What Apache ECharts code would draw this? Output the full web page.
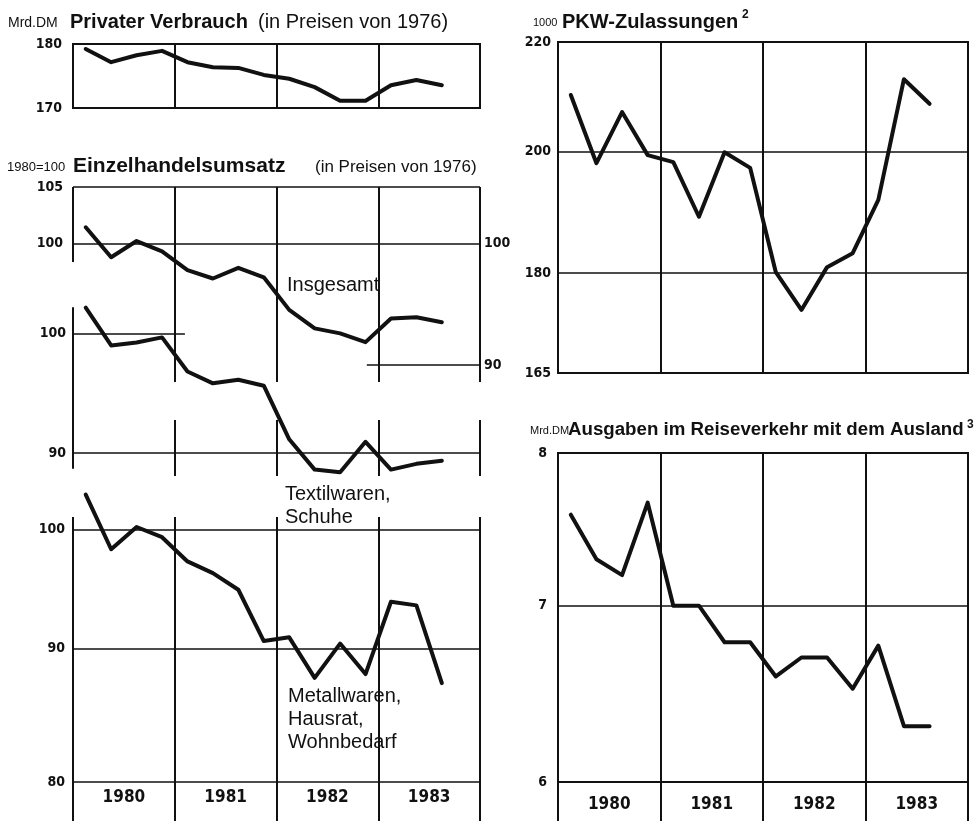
<!DOCTYPE html>
<html>
<head>
<meta charset="utf-8">
<script src="https://cdn.jsdelivr.net/npm/echarts@6/dist/echarts.min.js"></script>
<style>
  html, body { margin: 0; padding: 0; background: #fff; }
  #chart { width: 979px; height: 821px; }
</style>
</head>
<body>
<div id="chart"></div>
<script>
// quarterly values 1980 I .. 1983 III
const years = ['1980', '1981', '1982', '1983'];
const quarters = [
  '1980 I', '1980 II', '1980 III', '1980 IV',
  '1981 I', '1981 II', '1981 III', '1981 IV',
  '1982 I', '1982 II', '1982 III', '1982 IV',
  '1983 I', '1983 II', '1983 III'
];

const privaterVerbrauch = [179.2, 177.1, 178.2, 178.9, 177.1, 176.3, 176.2, 175.1, 174.5, 173.2, 171.1, 171.1, 173.5, 174.3, 173.5];
const insgesamt = [101.4, 98.8, 100.2, 99.3, 97.7, 97.0, 97.9, 97.1, 94.4, 92.9, 92.5, 91.8, 93.7, 93.8, 93.4];
const textilwaren = [102.3, 98.95, 99.2, 99.65, 96.7, 95.7, 96.0, 95.5, 91.1, 88.7, 88.5, 90.9, 88.7, 89.15, 89.4];
const metallwaren = [103.1, 98.25, 100.2, 99.3, 97.2, 96.2, 94.8, 90.6, 90.9, 87.7, 90.4, 88.0, 93.8, 93.5, 87.3];
const pkwZulassungen = [210.1, 198.0, 207.0, 199.4, 198.2, 189.0, 199.9, 197.2, 180.1, 174.3, 180.9, 183.1, 191.8, 213.0, 208.5];
const reiseverkehr = [7.58, 7.29, 7.19, 7.66, 7.00, 7.00, 6.78, 6.78, 6.58, 6.69, 6.69, 6.51, 6.76, 6.30, 6.30];

const pvTicks = [170, 180];
const insgLeftTicks = [100, 105];
const insgRightTicks = [90, 100];
const textilTicks = [90, 100];
const metallTicks = [80, 90, 100];
const pkwTicks = [165, 180, 200, 220];
const reiseTicks = [6, 7, 8];

const INK = '#111';
const numFont = '"DejaVu Sans Condensed", "DejaVu Sans", sans-serif';
const textFont = '"Liberation Sans", Arial, sans-serif';
const nQ = years.length * 4;

const chart = echarts.init(document.getElementById('chart'));

// quarter i is drawn in the middle of its slot on a 0..16 axis
const toPoints = (values) => values.map((v, i) => [i + 0.5, v]);

const box = { show: true, borderColor: INK, borderWidth: 2, backgroundColor: 'transparent' };

const grids = [
  Object.assign({ left: 73, top: 44, width: 407, height: 64 }, box),   // 0 privater verbrauch
  { left: 73, top: 187, width: 407, height: 178 },                     // 1 insgesamt
  { left: 73, top: 278, width: 407, height: 240 },                     // 2 textil
  { left: 73, top: 474, width: 407, height: 308 },                     // 3 metall
  Object.assign({ left: 558, top: 42, width: 410, height: 331 }, box), // 4 pkw
  Object.assign({ left: 558, top: 453, width: 410, height: 329 }, box),// 5 reise
  { left: 73, top: 187, width: 407, height: 75 },                      // 6 frame pieces
  { left: 73, top: 262, width: 407, height: 120 },                     // 7
  { left: 73, top: 420, width: 407, height: 56 },                      // 8
  { left: 73, top: 308, width: 407, height: 160 },                     // 9 left border piece
  { left: 73, top: 517, width: 407, height: 265 }                      // 10
];

const vLines = { show: true, lineStyle: { color: INK, width: 2 } };

function xAx(gridIndex, extra) {
  return Object.assign({
    type: 'value', gridIndex: gridIndex, min: 0, max: nQ, interval: 4,
    axisLine: { show: false }, axisTick: { show: false },
    axisLabel: { show: false }, splitLine: { show: false }
  }, extra || {});
}

function yearLabels(margin) {
  return {
    show: true, customValues: [2, 6, 10, 14],
    formatter: (v) => years[(v - 2) / 4],
    margin: margin, color: INK, fontFamily: numFont, fontWeight: 'bold', fontSize: 17
  };
}
const longTicks = { show: true, length: 39, lineStyle: { color: INK, width: 2 } };

const xAxes = [
  xAx(0, { splitLine: vLines }),
  xAx(1), xAx(2), xAx(3),
  xAx(4, { splitLine: vLines }),
  xAx(5, { splitLine: vLines, axisLabel: yearLabels(14), axisTick: longTicks }),
  xAx(6, { splitLine: vLines }),
  xAx(7, { splitLine: Object.assign({ showMinLine: false }, vLines) }),
  xAx(8, { splitLine: Object.assign({ showMinLine: false }, vLines) }),
  xAx(9),
  xAx(10, { splitLine: vLines, axisLabel: yearLabels(7), axisTick: longTicks })
];

function logY(gridIndex, min, max, ticks, margin, position) {
  return {
    type: 'log', logBase: 10, gridIndex: gridIndex, min: min, max: max,
    position: position || 'left',
    axisLine: { show: false }, axisTick: { show: false }, splitLine: { show: false },
    axisLabel: {
      show: true, customValues: ticks, formatter: (v) => String(Math.round(v)),
      margin: margin, color: INK, fontFamily: numFont, fontWeight: 'bold', fontSize: 14
    }
  };
}
function plainY(gridIndex, border) {
  return {
    type: 'value', gridIndex: gridIndex, min: 0, max: 1,
    axisLine: { show: !!border, lineStyle: { color: INK, width: 2 } },
    axisTick: { show: false }, axisLabel: { show: false }, splitLine: { show: false }
  };
}

const yAxes = [
  logY(0, 170, 180, pvTicks, 11),
  logY(1, 90, 105, insgLeftTicks, 10),
  logY(1, 90, 105, insgRightTicks, 4, 'right'),
  logY(2, 85, 105, textilTicks, 7),
  logY(3, 80, 105, metallTicks, 8),
  logY(4, 165, 220, pkwTicks, 7),
  logY(5, 6, 8, reiseTicks, 11),
  plainY(6), plainY(7), plainY(8), plainY(9, true), plainY(10)
];

function hLines(items, width) {
  return {
    silent: true, symbol: ['none', 'none'], animation: false,
    label: { show: false },
    lineStyle: { color: INK, width: width || 1.5, type: 'solid' },
    data: items
  };
}
const full = (v) => ({ yAxis: v });
const part = (v, from, to) => [{ coord: [from, v] }, { coord: [to, v] }];

function line(name, values, xi, yi, markLine) {
  const s = {
    name: name, type: 'line', xAxisIndex: xi, yAxisIndex: yi,
    data: toPoints(values), showSymbol: false, clip: false, silent: true,
    lineStyle: { color: INK, width: 4, join: 'round', cap: 'round' }
  };
  if (markLine) s.markLine = markLine;
  return s;
}

const series = [
  line('Privater Verbrauch', privaterVerbrauch, 0, 0),
  line('Insgesamt', insgesamt, 1, 1, hLines([full(105), full(100), part(90, 11.55, nQ)])),
  line('Textilwaren, Schuhe', textilwaren, 2, 3, hLines([part(100, 0, 4.4), full(90)])),
  line('Metallwaren, Hausrat, Wohnbedarf', metallwaren, 3, 4, hLines([full(100), full(90), full(80)])),
  line('PKW-Zulassungen', pkwZulassungen, 4, 5, hLines([full(200), full(180)])),
  line('Ausgaben im Reiseverkehr', reiseverkehr, 5, 6, hLines([full(7)]))
];

function txt(x, y, text, size, weight, extra) {
  return {
    type: 'text', x: x, y: y, silent: true,
    style: Object.assign({
      text: text, fill: INK, fontFamily: textFont, fontSize: size,
      fontWeight: weight || 'normal', align: 'left', verticalAlign: 'middle'
    }, extra || {})
  };
}

const graphics = [
  txt(8, 23, 'Mrd.DM', 14),
  txt(70, 22, 'Privater Verbrauch', 20, 'bold'),
  txt(258, 22, '(in Preisen von 1976)', 20),
  txt(7, 167, '1980=100', 13),
  txt(73, 166, 'Einzelhandelsumsatz', 21, 'bold'),
  txt(315, 167, '(in Preisen von 1976)', 17),
  txt(533, 23, '1000', 11),
  txt(562, 22, 'PKW-Zulassungen', 20, 'bold'),
  txt(742, 15, '2', 12, 'bold'),
  txt(530, 431, 'Mrd.DM', 11),
  txt(568, 430, 'Ausgaben im Reiseverkehr mit dem Ausland', 18.7, 'bold'),
  txt(967, 425, '3', 12, 'bold'),
  txt(287, 285, 'Insgesamt', 20),
  txt(285, 483, 'Textilwaren,\nSchuhe', 20, 'normal', { verticalAlign: 'top', lineHeight: 23 }),
  txt(288, 685, 'Metallwaren,\nHausrat,\nWohnbedarf', 20, 'normal', { verticalAlign: 'top', lineHeight: 23 })
];

chart.setOption({
  animation: false,
  backgroundColor: '#fff',
  grid: grids,
  xAxis: xAxes,
  yAxis: yAxes,
  series: series,
  graphic: graphics
});
</script>
</body>
</html>
